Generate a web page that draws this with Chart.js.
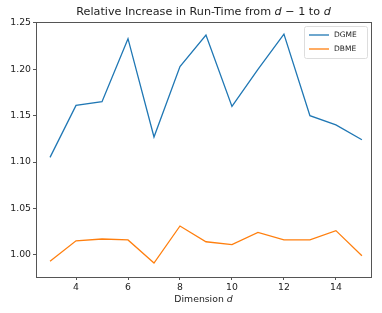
<!DOCTYPE html>
<html>
<head>
<meta charset="utf-8">
<script src="https://cdn.jsdelivr.net/npm/chart.js@4.4.0/dist/chart.umd.min.js"></script>
<style>
  body { margin: 0; background: #fff; }
  #wrap { width: 382px; height: 313px; }
</style>
</head>
<body>
<div id="wrap"><canvas id="chart" width="382" height="313"></canvas></div>
<script>
// data
var dims = [3, 4, 5, 6, 7, 8, 9, 10, 11, 12, 13, 14, 15];
var dgme = [1.105, 1.161, 1.165, 1.233, 1.127, 1.203, 1.237, 1.160, 1.200, 1.238, 1.150, 1.140, 1.124];
var dbme = [0.993, 1.015, 1.017, 1.016, 0.991, 1.031, 1.014, 1.011, 1.024, 1.016, 1.016, 1.026, 0.999];
var xTicks = [4, 6, 8, 10, 12, 14];
var yTicks = [1.00, 1.05, 1.10, 1.15, 1.20, 1.25];
var seriesNames = ['DGME', 'DBME'];

var blue = '#1f77b4', orange = '#ff7f0e', axisCol = '#555';
var font = 'DejaVu Sans';

function pts(vals) {
  return dims.map(function(d, i) { return { x: d, y: vals[i] }; });
}

// draws text pieces, some italic, centred on cx
function mixedText(ctx, parts, cx, y, size) {
  var w = 0;
  parts.forEach(function(p) {
    ctx.font = (p[1] ? 'italic ' : '') + size + 'px "' + font + '"';
    w += ctx.measureText(p[0]).width;
  });
  var x = cx - w / 2;
  parts.forEach(function(p) {
    ctx.font = (p[1] ? 'italic ' : '') + size + 'px "' + font + '"';
    ctx.fillText(p[0], x, y);
    x += ctx.measureText(p[0]).width;
  });
}

var decor = {
  id: 'decor',
  afterDraw: function(chart) {
    var ctx = chart.ctx, a = chart.chartArea;
    ctx.save();
    // frame
    ctx.strokeStyle = axisCol;
    ctx.lineWidth = 1;
    ctx.strokeRect(Math.round(a.left) + 0.5, Math.round(a.top) + 0.5, Math.round(a.right - a.left), Math.round(a.bottom - a.top));
    // title + x label
    ctx.fillStyle = '#222';
    ctx.textBaseline = 'middle';
    mixedText(ctx, [['Relative Increase in Run-Time from ', false], ['d', true], [' \u2212 1 to ', false], ['d', true]], (a.left + a.right) / 2, 12, 11.2);
    mixedText(ctx, [['Dimension ', false], ['d', true]], (a.left + a.right) / 2, 300, 9.3);
    // legend
    var lx = 304, ly = 26, lw = 63, lh = 32;
    ctx.fillStyle = 'rgba(255,255,255,0.8)';
    ctx.strokeStyle = '#ddd';
    ctx.beginPath();
    ctx.roundRect(lx + 0.5, ly + 0.5, lw, lh, 2);
    ctx.fill();
    ctx.stroke();
    [blue, orange].forEach(function(c, i) {
      var yy = ly + 9 + i * 14;
      ctx.strokeStyle = c;
      ctx.lineWidth = 1.3;
      ctx.beginPath();
      ctx.moveTo(lx + 5, yy);
      ctx.lineTo(lx + 25, yy);
      ctx.stroke();
      ctx.fillStyle = '#222';
      ctx.font = '7.5px "' + font + '"';
      ctx.textAlign = 'left';
      ctx.fillText(seriesNames[i], lx + 30, yy);
    });
    ctx.restore();
  }
};

new Chart(document.getElementById('chart'), {
  type: 'line',
  data: {
    datasets: [
      { label: seriesNames[0], data: pts(dgme), borderColor: blue, borderWidth: 1.3, pointRadius: 0, fill: false, tension: 0 },
      { label: seriesNames[1], data: pts(dbme), borderColor: orange, borderWidth: 1.3, pointRadius: 0, fill: false, tension: 0 }
    ]
  },
  options: {
    responsive: false,
    animation: false,
    layout: { padding: { top: 22, right: 11, left: 0, bottom: 0 } },
    plugins: {
      legend: { display: false },
      tooltip: { enabled: false }
    },
    scales: {
      x: {
        type: 'linear',
        min: 2.46,
        max: 15.35,
        afterBuildTicks: function(s) { s.ticks = xTicks.map(function(v) { return { value: v }; }); },
        afterFit: function(s) { s.height = 36; },
        grid: { display: true, drawOnChartArea: false, drawTicks: true, tickLength: 3, color: axisCol },
        border: { display: true, color: axisCol },
        ticks: { color: '#222', font: { family: font, size: 9.3 }, padding: 2, maxRotation: 0 }
      },
      y: {
        min: 0.976,
        max: 1.251,
        afterBuildTicks: function(s) { s.ticks = yTicks.map(function(v) { return { value: v }; }); },
        afterFit: function(s) { s.width = 36; },
        grid: { display: true, drawOnChartArea: false, drawTicks: true, tickLength: 3, color: axisCol },
        border: { display: true, color: axisCol },
        ticks: {
          color: '#222', font: { family: font, size: 9.3 }, padding: 2,
          callback: function(v) { return v.toFixed(2); }
        }
      }
    }
  },
  plugins: [decor]
});
</script>
</body>
</html>
